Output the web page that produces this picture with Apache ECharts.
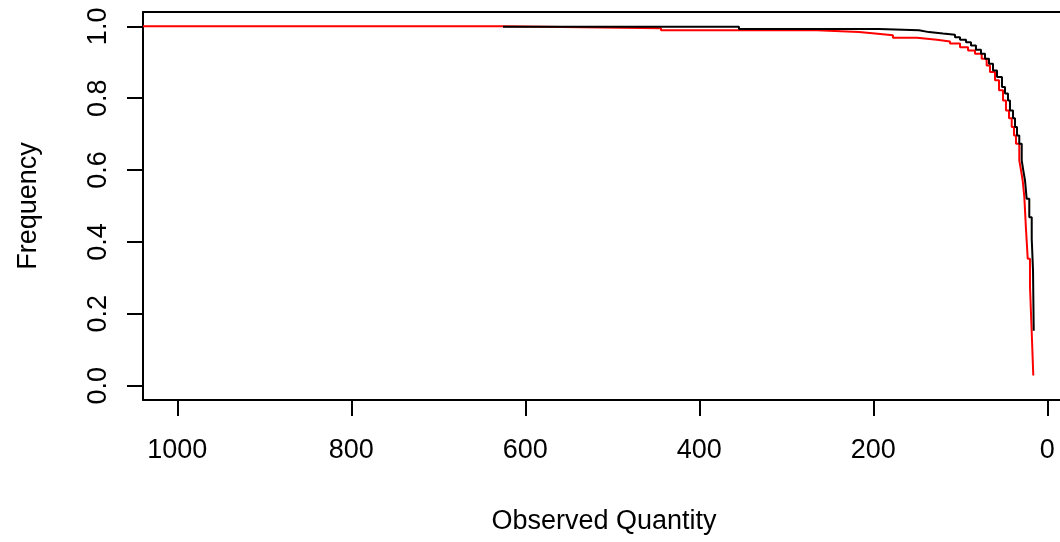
<!DOCTYPE html>
<html>
<head>
<meta charset="utf-8">
<script src="https://cdn.jsdelivr.net/npm/echarts@6/dist/echarts.min.js"></script>
<style>
  html, body { margin: 0; padding: 0; background: #fff; }
  #chart { width: 1060px; height: 542px; }
</style>
</head>
<body>
<div id="chart"></div>
<script>
// step points: x where the drop happens, level after the drop
const blackX = [625.6, 354.4, 193.4, 147.5, 136.0, 119.9, 106.1, 100.3, 93.4, 87.7, 82.0, 76.2, 71.6, 67.0, 62.4, 57.8, 52.1, 48.6, 45.2, 42.9, 39.4, 37.1, 34.8, 32.2, 29.4, 27.6, 25.6, 23.7, 20.7, 17.9, 16.4, 15.6]
const blackY = [0.999, 0.993, 0.989, 0.984, 0.980, 0.977, 0.970, 0.963, 0.956, 0.947, 0.935, 0.924, 0.910, 0.896, 0.877, 0.859, 0.831, 0.813, 0.794, 0.766, 0.744, 0.720, 0.696, 0.673, 0.627, 0.599, 0.571, 0.520, 0.469, 0.409, 0.320, 0.153]

const redX = [1039.4, 625.6, 444.0, 264.7, 216.4, 198.0, 177.4, 149.8, 126.8, 111.8, 100.3, 91.1, 83.1, 75.4, 69.7, 65.9, 60.1, 55.5, 50.9, 47.5, 44.0, 40.9, 38.3, 36.0, 32.2, 30.2, 28.3, 26.4, 24.5, 22.5, 19.9, 17.9, 16.1]
const redY = [1.000, 0.995, 0.989, 0.984, 0.980, 0.975, 0.968, 0.963, 0.958, 0.952, 0.942, 0.933, 0.924, 0.910, 0.891, 0.873, 0.850, 0.822, 0.794, 0.766, 0.744, 0.720, 0.696, 0.673, 0.627, 0.599, 0.571, 0.525, 0.436, 0.353, 0.276, 0.148, 0.028]

const xTicks = [0, 200, 400, 600, 800, 1000]
const yTicks = [0, 0.2, 0.4, 0.6, 0.8, 1.0]

const font = "'Liberation Sans', Arial, sans-serif"

const toPairs = (xs, ys) => xs.map((x, i) => [x, ys[i]])

const chart = echarts.init(document.getElementById("chart"))

const tickStyle = { color: "#000", width: 2 }

chart.setOption({
  animation: false,
  backgroundColor: "#fff",
  grid: {
    left: 143,
    right: 0,
    top: 12,
    bottom: 142
  },
  xAxis: [
    {
      type: "value",
      inverse: true,
      min: -14.6,
      max: 1039.4,
      name: "Observed Quantity",
      nameLocation: "middle",
      nameGap: 108,
      nameTextStyle: { color: "#000", fontSize: 27, fontFamily: font, padding: [0, 0, 0, 5] },
      axisLine: { show: true, onZero: false, lineStyle: tickStyle },
      splitLine: { show: false },
      axisTick: {
        show: true,
        inside: false,
        length: 16,
        customValues: xTicks,
        lineStyle: tickStyle
      },
      axisLabel: {
        customValues: xTicks,
        margin: 37,
        color: "#000",
        fontSize: 27,
        fontFamily: font,
        formatter: (v) => String(v)
      }
    },
    {
      // top edge of the plot box
      type: "value",
      position: "top",
      inverse: true,
      min: -14.6,
      max: 1039.4,
      axisLine: { show: true, onZero: false, lineStyle: tickStyle },
      axisTick: { show: false },
      axisLabel: { show: false },
      splitLine: { show: false }
    }
  ],
  yAxis: {
    type: "value",
    min: -0.04,
    max: 1.04,
    name: "Frequency",
    nameLocation: "middle",
    nameGap: 101,
    nameRotate: 90,
    nameTextStyle: { color: "#000", fontSize: 27, fontFamily: font },
    axisLine: { show: true, onZero: false, lineStyle: tickStyle },
    splitLine: { show: false },
    axisTick: {
      show: true,
      inside: false,
      length: 16,
      customValues: yTicks,
      lineStyle: tickStyle
    },
    axisLabel: {
      customValues: yTicks,
      rotate: 90,
      margin: 31,
      color: "#000",
      fontSize: 27,
      fontFamily: font,
      formatter: (v) => v.toFixed(1)
    }
  },
  series: [
    {
      name: "red",
      type: "line",
      step: "end",
      showSymbol: false,
      data: toPairs(redX, redY),
      lineStyle: { color: "#ff0000", width: 2 }
    },
    {
      name: "black",
      type: "line",
      step: "end",
      showSymbol: false,
      data: toPairs(blackX, blackY),
      lineStyle: { color: "#000", width: 2 }
    }
  ]
})
</script>
</body>
</html>
